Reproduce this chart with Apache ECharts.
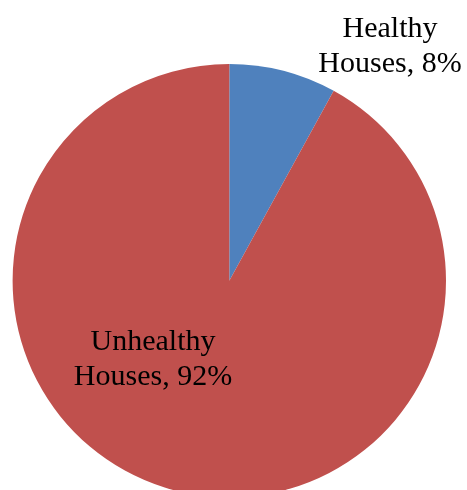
<!DOCTYPE html>
<html>
<head>
<meta charset="utf-8">
<script src="https://cdn.jsdelivr.net/npm/echarts@6/dist/echarts.min.js"></script>
<style>
  html, body { margin: 0; padding: 0; background: #ffffff; }
  #chart { width: 467px; height: 490px; }
</style>
</head>
<body>
<div id="chart"></div>
<script>
// Share of houses by health status (percent)
const categories = ['Healthy Houses', 'Unhealthy Houses'];
const values = [8, 92];
const colors = ['#4F81BD', '#C0504D'];

// Label anchor points (pixel centres of each two-line label block)
const labelSpots = [
  { x: 390, y: 47 },
  { x: 153, y: 360 }
];

const chart = echarts.init(document.getElementById('chart'), null, { renderer: 'canvas' });

chart.setOption({
  animation: false,
  backgroundColor: '#ffffff',
  series: [{
    type: 'pie',
    center: [229.3, 280.7],
    radius: [0, 216.7],
    startAngle: 90,
    clockwise: true,
    silent: true,
    data: categories.map((name, i) => ({
      name: name,
      value: values[i],
      itemStyle: { color: colors[i] }
    })),
    label: {
      show: true,
      position: 'inside',
      formatter: function (p) {
        const parts = p.name.split(' ');
        return parts[0] + '\n' + parts[1] + ', ' + p.value + '%';
      },
      fontFamily: '"Liberation Serif", "Times New Roman", serif',
      fontSize: 30,
      lineHeight: 35,
      color: '#000000',
      align: 'center',
      verticalAlign: 'middle'
    },
    labelLine: { show: false },
    labelLayout: function (params) {
      const spot = labelSpots[params.dataIndex];
      return { x: spot.x, y: spot.y, align: 'center', verticalAlign: 'middle' };
    }
  }]
});
</script>
</body>
</html>
